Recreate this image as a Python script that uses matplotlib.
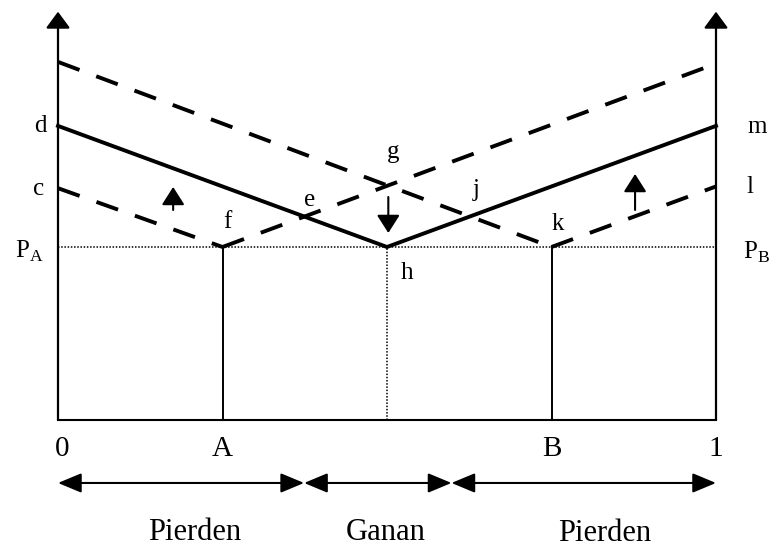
import matplotlib
matplotlib.use('Agg')
import matplotlib.pyplot as plt

plt.rcParams['font.family'] = ['Liberation Serif', 'DejaVu Serif']
plt.rcParams['mathtext.fontset'] = 'custom'
plt.rcParams['mathtext.rm'] = 'Liberation Serif'

# market line from 0 to 1, firm locations and price level
price = 1.0
axis_top = 2.36
loc_x = [0.0, 0.25, 0.75, 1.0]
loc_labels = ['0', 'A', 'B', '1']
mid_x = 0.5

# delivered price schedules (x, y)
solid_x = [0.0, 0.5, 1.0]
solid_y = [1.70, 1.0, 1.70]
dash_a_x = [0.0, 0.25, 1.0]
dash_a_y = [1.34, 1.0, 2.06]
dash_b_x = [0.0, 0.75, 1.0]
dash_b_y = [2.07, 1.0, 1.35]

# small shift arrows: x, start, end
shift_x = [0.175, 0.502, 0.877]
shift_from = [1.214, 1.289, 1.214]
shift_to = [1.347, 1.081, 1.422]

# zones along the bottom
zone_bounds = [0.0, 0.374, 0.598, 1.0]
zone_labels = ['Pierden', 'Ganan', 'Pierden']

# point labels
pt_labels = ['d', 'c', 'f', 'e', 'g', 'j', 'k', 'h', 'm', 'l']
pt_x = [-0.027, -0.030, 0.258, 0.383, 0.509, 0.635, 0.760, 0.530, 1.062, 1.052]
pt_y = [1.70, 1.335, 1.145, 1.272, 1.549, 1.329, 1.133, 0.850, 1.694, 1.347]

fig = plt.figure(figsize=(7.75, 5.48), dpi=100)
ax = fig.add_axes([0, 0, 1, 1])
ax.set_xlim(-58 / 658, 717 / 658)
ax.set_ylim(-128 / 173, 420 / 173)
ax.axis('off')

# axes: vertical arrows at 0 and 1, baseline
for x in [loc_x[0], loc_x[-1]]:
    ax.annotate('', xy=(x, axis_top), xytext=(x, 0),
                arrowprops=dict(arrowstyle='-|>,head_length=0.42,head_width=0.31',
                                lw=1.6, color='black', mutation_scale=24,
                                shrinkA=0, shrinkB=0))
ax.plot([loc_x[0], loc_x[-1]], [0, 0], color='black', lw=1.5)

# price level and firm verticals
ax.plot([loc_x[0], loc_x[-1]], [price, price], color='black', lw=1.1, ls=(0, (1, 1.1)))
for x in [loc_x[1], loc_x[2]]:
    ax.plot([x, x], [0, price], color='black', lw=1.4)
ax.plot([mid_x, mid_x], [0, price], color='black', lw=1.1, ls=(0, (1, 1.1)))

# solid schedule
ax.plot(solid_x, solid_y, color='black', lw=2.8, solid_joinstyle='miter')

# dashed schedules
dash = (0, (5.9, 4.6))
ax.plot(dash_a_x[:2], dash_a_y[:2], color='black', lw=2.8, ls=dash)
ax.plot(dash_a_x[1:], dash_a_y[1:], color='black', lw=2.8, ls=dash)
ax.plot(dash_b_x[:2], dash_b_y[:2], color='black', lw=2.8, ls=dash)
ax.plot(dash_b_x[1:], dash_b_y[1:], color='black', lw=2.8, ls=dash)

for x, y0, y1 in zip(shift_x, shift_from, shift_to):
    ax.annotate('', xy=(x, y1), xytext=(x, y0),
                arrowprops=dict(arrowstyle='-|>,head_length=0.55,head_width=0.35',
                                lw=1.5, color='black', mutation_scale=20,
                                shrinkA=0, shrinkB=0))

# zone arrows
for a, b in zip(zone_bounds[:-1], zone_bounds[1:]):
    ax.annotate('', xy=(b, -0.364), xytext=(a, -0.364),
                arrowprops=dict(arrowstyle='<|-|>,head_length=0.6,head_width=0.25',
                                lw=1.5, color='black', mutation_scale=24,
                                shrinkA=0, shrinkB=0))

# labels
for s, x, y in zip(pt_labels, pt_x, pt_y):
    ax.text(x, y, s, fontsize=18, ha='center', va='center')
ax.text(-0.043, 0.977, r'$\mathrm{P}_{\mathrm{A}}$', fontsize=18, ha='center', va='center')
ax.text(1.061, 0.971, r'$\mathrm{P}_{\mathrm{B}}$', fontsize=18, ha='center', va='center')

for s, x in zip(loc_labels, loc_x):
    ax.text(x + (0.006 if s == '0' else 0), -0.165, s, fontsize=21, ha='center', va='center')

zone_text_x = [0.208, 0.498, 0.83]
zone_text_y = [-0.692, -0.692, -0.698]
for s, x, y in zip(zone_labels, zone_text_x, zone_text_y):
    ax.text(x, y, s, fontsize=22, ha='center', va='baseline')

fig.savefig('out.png', dpi=100)
